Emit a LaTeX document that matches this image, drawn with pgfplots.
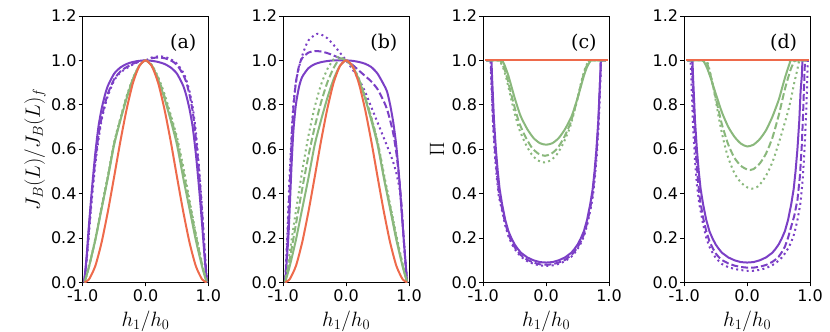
\documentclass[border=0pt]{standalone}
\usepackage{fontspec}
\setmainfont{DejaVu Sans}
\newfontfamily\panelfont{DejaVu Serif}
\usepackage{pgfplots}
\pgfplotsset{compat=1.18}

\definecolor{cpurple}{HTML}{7B3FC6}
\definecolor{cgreen}{HTML}{8AB87C}
\definecolor{corange}{HTML}{EE6A4B}

\tikzset{
  sol/.style={solid},
  das/.style={dash pattern=on 7pt off 3pt},
  dot/.style={dash pattern=on 2pt off 3.3pt},
  plab/.style={font=\panelfont\fontsize{19}{21}\selectfont},
}
\pgfplotsset{
  panel/.style={
    scale only axis, width=125.7pt, height=266.3pt,
    anchor=south west,
    xmin=-1, xmax=1, ymin=0, ymax=1.2,
    xtick={-1,0,1}, xticklabels={-1.0,0.0,1.0},
    ytick={0,0.2,0.4,0.6,0.8,1.0,1.2},
    yticklabels={0.0,0.2,0.4,0.6,0.8,1.0,1.2},
    tick align=outside, tick pos=left, major tick length=4pt,
    tick style={black, line width=0.8pt},
    axis line style={line width=0.8pt},
    ticklabel style={font=\fontsize{16}{18}\selectfont},
    xticklabel style={inner sep=1pt, yshift=-2pt},
    yticklabel style={inner sep=2pt},
    xlabel={$h_1/h_0$},
    label style={font=\fontsize{20}{22}\selectfont},
    xlabel style={at={(axis description cs:0.5,0)}, anchor=north, inner sep=0pt, yshift=-28pt},
    every axis plot/.append style={line width=2pt, smooth, tension=0.4},
  },
}

\begin{document}
\begin{tikzpicture}
\path[use as bounding box] (0pt,0pt) rectangle (830pt,332pt);

% (a)
\begin{axis}[panel, at={(82.7pt,49.7pt)}, ylabel={$J_B(L)/J_B(L)_f$},
  ylabel style={at={(axis description cs:-0.379,0.5)}, anchor=center}]
\addplot[cpurple,sol] coordinates {(-0.98,0) (-0.97,0.02) (-0.94,0.11) (-0.9,0.26) (-0.85,0.43) (-0.8,0.58) (-0.75,0.70) (-0.7,0.78) (-0.65,0.84) (-0.6,0.885) (-0.5,0.94) (-0.4,0.968) (-0.3,0.984) (-0.2,0.993) (-0.1,0.998) (0,1) (0.1,0.998) (0.2,0.993) (0.3,0.984) (0.4,0.968) (0.5,0.94) (0.6,0.885) (0.65,0.84) (0.7,0.78) (0.75,0.70) (0.8,0.58) (0.85,0.43) (0.9,0.26) (0.94,0.11) (0.97,0.02) (0.98,0)};
\addplot[cpurple,das] coordinates {(-0.98,0) (-0.96,0.04) (-0.93,0.13) (-0.9,0.24) (-0.85,0.41) (-0.8,0.55) (-0.75,0.66) (-0.7,0.74) (-0.65,0.80) (-0.6,0.85) (-0.5,0.915) (-0.4,0.95) (-0.3,0.97) (-0.2,0.985) (-0.1,0.995) (0,1.0) (0.1,1.01) (0.2,1.013) (0.3,1.01) (0.4,1.0) (0.5,0.98) (0.6,0.935) (0.65,0.90) (0.7,0.845) (0.75,0.77) (0.8,0.65) (0.85,0.50) (0.9,0.31) (0.94,0.14) (0.97,0.03) (0.98,0)};
\addplot[cpurple,dot] coordinates {(-0.98,0) (-0.96,0.03) (-0.93,0.12) (-0.9,0.22) (-0.85,0.39) (-0.8,0.53) (-0.75,0.64) (-0.7,0.73) (-0.65,0.79) (-0.6,0.84) (-0.5,0.91) (-0.4,0.945) (-0.3,0.965) (-0.2,0.982) (-0.1,0.995) (0,1.0) (0.1,1.013) (0.2,1.018) (0.3,1.016) (0.4,1.005) (0.5,0.985) (0.6,0.945) (0.65,0.91) (0.7,0.86) (0.75,0.79) (0.8,0.68) (0.85,0.52) (0.9,0.33) (0.94,0.15) (0.97,0.03) (0.98,0)};
\addplot[cgreen,sol] coordinates {(-0.97,0) (-0.95,0.02) (-0.9,0.07) (-0.8,0.19) (-0.7,0.33) (-0.6,0.47) (-0.5,0.62) (-0.4,0.73) (-0.3,0.83) (-0.2,0.915) (-0.1,0.975) (0,1) (0.1,0.975) (0.2,0.915) (0.3,0.83) (0.4,0.73) (0.5,0.62) (0.6,0.47) (0.7,0.33) (0.8,0.19) (0.9,0.07) (0.95,0.02) (0.97,0)};
\addplot[cgreen,das] coordinates {(-0.97,0) (-0.95,0.02) (-0.9,0.07) (-0.8,0.19) (-0.7,0.335) (-0.6,0.475) (-0.5,0.625) (-0.4,0.735) (-0.3,0.835) (-0.2,0.917) (-0.1,0.976) (0,1) (0.1,0.977) (0.2,0.92) (0.3,0.84) (0.4,0.745) (0.5,0.64) (0.6,0.5) (0.7,0.355) (0.8,0.21) (0.9,0.08) (0.95,0.025) (0.975,0)};
\addplot[cgreen,dot] coordinates {(-0.97,0) (-0.95,0.02) (-0.9,0.072) (-0.8,0.195) (-0.7,0.34) (-0.6,0.48) (-0.5,0.63) (-0.4,0.74) (-0.3,0.84) (-0.2,0.92) (-0.1,0.977) (0,1) (0.1,0.98) (0.2,0.925) (0.3,0.85) (0.4,0.755) (0.5,0.655) (0.6,0.52) (0.7,0.37) (0.8,0.22) (0.9,0.085) (0.95,0.03) (0.98,0)};
\addplot[corange,sol] coordinates {(-0.97,0) (-0.9,0.013) (-0.8,0.073) (-0.7,0.179) (-0.6,0.318) (-0.5,0.475) (-0.4,0.636) (-0.3,0.781) (-0.2,0.899) (-0.1,0.974) (0,1) (0.1,0.974) (0.2,0.899) (0.3,0.781) (0.4,0.636) (0.5,0.475) (0.6,0.318) (0.7,0.179) (0.8,0.073) (0.9,0.013) (0.97,0)};
\node[plab] at (rel axis cs:0.8,0.9) {(a)};
\end{axis}

% (b)
\begin{axis}[panel, at={(283.3pt,49.7pt)}]
\addplot[cpurple,sol] coordinates {(-0.97,0) (-0.95,0.08) (-0.92,0.2) (-0.9,0.32) (-0.87,0.52) (-0.84,0.68) (-0.8,0.80) (-0.75,0.88) (-0.7,0.925) (-0.6,0.965) (-0.5,0.983) (-0.4,0.992) (-0.3,0.997) (-0.2,1.0) (-0.1,1.0) (0,1.0) (0.1,0.998) (0.2,0.993) (0.3,0.985) (0.4,0.97) (0.5,0.94) (0.6,0.89) (0.65,0.86) (0.7,0.80) (0.75,0.72) (0.8,0.61) (0.85,0.45) (0.88,0.33) (0.92,0.18) (0.95,0.07) (0.97,0)};
\addplot[cpurple,das] coordinates {(-0.97,0) (-0.95,0.1) (-0.92,0.28) (-0.9,0.42) (-0.87,0.62) (-0.84,0.78) (-0.8,0.9) (-0.75,0.975) (-0.7,1.01) (-0.6,1.035) (-0.5,1.042) (-0.4,1.04) (-0.3,1.033) (-0.2,1.022) (-0.1,1.01) (0,0.998) (0.1,0.98) (0.2,0.955) (0.3,0.93) (0.4,0.905) (0.5,0.87) (0.6,0.815) (0.65,0.78) (0.7,0.73) (0.75,0.67) (0.8,0.58) (0.85,0.45) (0.88,0.35) (0.92,0.18) (0.95,0.07) (0.97,0)};
\addplot[cpurple,dot] coordinates {(-0.97,0) (-0.95,0.12) (-0.92,0.33) (-0.9,0.48) (-0.87,0.66) (-0.84,0.8) (-0.8,0.9) (-0.75,0.97) (-0.7,1.02) (-0.65,1.06) (-0.6,1.09) (-0.5,1.115) (-0.45,1.12) (-0.4,1.117) (-0.3,1.10) (-0.2,1.07) (-0.1,1.035) (0,1.0) (0.1,0.96) (0.2,0.915) (0.3,0.86) (0.4,0.79) (0.5,0.72) (0.6,0.65) (0.7,0.58) (0.75,0.54) (0.8,0.49) (0.85,0.42) (0.88,0.34) (0.91,0.22) (0.94,0.1) (0.97,0)};
\addplot[cgreen,sol] coordinates {(-0.97,0) (-0.95,0.02) (-0.9,0.07) (-0.8,0.19) (-0.7,0.33) (-0.6,0.47) (-0.5,0.62) (-0.4,0.73) (-0.3,0.83) (-0.2,0.915) (-0.1,0.975) (0,1) (0.1,0.975) (0.2,0.915) (0.3,0.83) (0.4,0.73) (0.5,0.62) (0.6,0.47) (0.7,0.33) (0.8,0.19) (0.9,0.07) (0.95,0.02) (0.97,0)};
\addplot[cgreen,das] coordinates {(-0.97,0) (-0.95,0.03) (-0.9,0.1) (-0.8,0.26) (-0.7,0.42) (-0.6,0.57) (-0.5,0.70) (-0.4,0.81) (-0.3,0.90) (-0.2,0.965) (-0.1,1.008) (0,1.0) (0.1,0.97) (0.2,0.915) (0.3,0.835) (0.4,0.74) (0.5,0.63) (0.6,0.48) (0.7,0.34) (0.8,0.20) (0.9,0.075) (0.95,0.02) (0.97,0)};
\addplot[cgreen,dot] coordinates {(-0.97,0) (-0.95,0.04) (-0.9,0.13) (-0.8,0.32) (-0.7,0.50) (-0.6,0.66) (-0.5,0.79) (-0.4,0.89) (-0.3,0.96) (-0.2,1.005) (-0.15,1.015) (-0.1,1.015) (0,1.0) (0.1,0.975) (0.2,0.92) (0.3,0.84) (0.4,0.745) (0.5,0.635) (0.6,0.49) (0.7,0.35) (0.8,0.21) (0.9,0.08) (0.95,0.025) (0.97,0)};
\addplot[corange,sol] coordinates {(-0.97,0) (-0.9,0.013) (-0.8,0.073) (-0.7,0.179) (-0.6,0.318) (-0.5,0.475) (-0.4,0.636) (-0.3,0.781) (-0.2,0.899) (-0.1,0.974) (0,1) (0.1,0.974) (0.2,0.899) (0.3,0.781) (0.4,0.636) (0.5,0.475) (0.6,0.318) (0.7,0.179) (0.8,0.073) (0.9,0.013) (0.97,0)};
\node[plab] at (rel axis cs:0.8,0.9) {(b)};
\end{axis}

% (c)
\begin{axis}[panel, at={(483.3pt,49.7pt)}, ylabel={$\Pi$},
  ylabel style={at={(axis description cs:-0.368,0.5)}, anchor=center}]
\addplot[cpurple,sol,sharp plot] coordinates {(-0.95,1) (-0.87,1.0) (-0.86,0.92) (-0.85,0.86) (-0.83,0.73) (-0.8,0.6) (-0.77,0.5) (-0.74,0.42) (-0.7,0.35) (-0.65,0.28) (-0.6,0.23) (-0.55,0.197) (-0.5,0.17) (-0.45,0.15) (-0.4,0.133) (-0.3,0.112) (-0.2,0.099) (-0.1,0.091) (0,0.089) (0.1,0.091) (0.2,0.099) (0.3,0.112) (0.4,0.133) (0.45,0.15) (0.5,0.17) (0.55,0.197) (0.6,0.23) (0.65,0.28) (0.7,0.35) (0.74,0.42) (0.77,0.5) (0.8,0.6) (0.83,0.73) (0.85,0.86) (0.86,0.92) (0.87,1.0) (0.95,1)};
\addplot[cpurple,das,sharp plot] coordinates {(-0.95,1) (-0.88,1.0) (-0.86,0.85) (-0.84,0.71) (-0.81,0.58) (-0.78,0.48) (-0.75,0.40) (-0.7,0.33) (-0.65,0.265) (-0.6,0.215) (-0.55,0.183) (-0.5,0.158) (-0.45,0.138) (-0.4,0.122) (-0.3,0.101) (-0.2,0.089) (-0.1,0.081) (0,0.079) (0.1,0.081) (0.2,0.089) (0.3,0.101) (0.4,0.122) (0.45,0.138) (0.5,0.158) (0.55,0.183) (0.6,0.215) (0.65,0.265) (0.7,0.33) (0.74,0.40) (0.77,0.48) (0.8,0.58) (0.83,0.71) (0.85,0.85) (0.87,1.0) (0.95,1)};
\addplot[cpurple,dot,sharp plot] coordinates {(-0.95,1) (-0.885,1.0) (-0.865,0.85) (-0.845,0.71) (-0.815,0.57) (-0.785,0.47) (-0.755,0.39) (-0.7,0.32) (-0.65,0.255) (-0.6,0.207) (-0.55,0.175) (-0.5,0.15) (-0.45,0.131) (-0.4,0.115) (-0.3,0.095) (-0.2,0.083) (-0.1,0.076) (0,0.074) (0.1,0.076) (0.2,0.083) (0.3,0.095) (0.4,0.115) (0.45,0.131) (0.5,0.15) (0.55,0.175) (0.6,0.207) (0.65,0.255) (0.7,0.32) (0.745,0.39) (0.775,0.47) (0.805,0.57) (0.835,0.71) (0.855,0.85) (0.875,1.0) (0.95,1)};
\addplot[cgreen,sol] coordinates {(-0.95,1) (-0.72,1.0) (-0.68,0.99) (-0.65,0.97) (-0.6,0.93) (-0.55,0.88) (-0.5,0.83) (-0.45,0.785) (-0.4,0.745) (-0.3,0.69) (-0.2,0.65) (-0.1,0.627) (0,0.62) (0.1,0.627) (0.2,0.65) (0.3,0.69) (0.4,0.745) (0.45,0.785) (0.5,0.83) (0.55,0.88) (0.6,0.93) (0.65,0.97) (0.7,0.995) (0.72,1.0) (0.95,1)};
\addplot[cgreen,das] coordinates {(-0.95,1) (-0.74,1.0) (-0.72,0.994) (-0.67,0.966) (-0.62,0.921) (-0.57,0.864) (-0.52,0.808) (-0.47,0.757) (-0.42,0.712) (-0.32,0.65) (-0.22,0.604) (-0.12,0.579) (-0.02,0.57) (0.08,0.579) (0.18,0.604) (0.28,0.65) (0.38,0.712) (0.43,0.757) (0.48,0.808) (0.53,0.864) (0.58,0.921) (0.63,0.966) (0.68,0.994) (0.70,1.0) (0.95,1)};
\addplot[cgreen,dot] coordinates {(-0.95,1) (-0.75,1.0) (-0.73,0.994) (-0.68,0.964) (-0.63,0.915) (-0.58,0.855) (-0.53,0.794) (-0.48,0.74) (-0.43,0.691) (-0.33,0.625) (-0.23,0.576) (-0.13,0.549) (-0.03,0.54) (0.07,0.549) (0.17,0.576) (0.27,0.625) (0.37,0.691) (0.42,0.74) (0.47,0.794) (0.52,0.855) (0.57,0.915) (0.62,0.964) (0.67,0.994) (0.69,1.0) (0.95,1)};
\addplot[corange,sol] coordinates {(-0.97,1) (0,1) (0.97,1)};
\node[plab] at (rel axis cs:0.8,0.9) {(c)};
\end{axis}

% (d)
\begin{axis}[panel, at={(684.3pt,49.7pt)}]
\addplot[cpurple,sol,sharp plot] coordinates {(-0.95,1) (-0.87,1.0) (-0.86,0.92) (-0.85,0.86) (-0.83,0.73) (-0.8,0.6) (-0.77,0.5) (-0.74,0.42) (-0.7,0.35) (-0.65,0.28) (-0.6,0.23) (-0.55,0.197) (-0.5,0.17) (-0.45,0.15) (-0.4,0.133) (-0.3,0.112) (-0.2,0.099) (-0.1,0.091) (0,0.089) (0.1,0.091) (0.2,0.099) (0.3,0.112) (0.4,0.133) (0.45,0.15) (0.5,0.17) (0.55,0.197) (0.6,0.23) (0.65,0.28) (0.7,0.35) (0.74,0.42) (0.77,0.5) (0.8,0.6) (0.83,0.73) (0.85,0.86) (0.87,0.93) (0.88,1.0) (0.95,1)};
\addplot[cpurple,das,sharp plot] coordinates {(-0.95,1) (-0.88,1.0) (-0.86,0.85) (-0.84,0.7) (-0.81,0.56) (-0.78,0.45) (-0.75,0.37) (-0.7,0.29) (-0.65,0.23) (-0.6,0.185) (-0.55,0.155) (-0.5,0.13) (-0.45,0.113) (-0.4,0.1) (-0.3,0.085) (-0.2,0.075) (-0.1,0.069) (0,0.066) (0.1,0.066) (0.2,0.07) (0.3,0.078) (0.4,0.092) (0.45,0.102) (0.5,0.115) (0.55,0.135) (0.6,0.16) (0.65,0.2) (0.7,0.25) (0.75,0.3) (0.8,0.37) (0.84,0.48) (0.87,0.62) (0.89,0.76) (0.91,0.92) (0.92,1.0) (0.96,1)};
\addplot[cpurple,dot,sharp plot] coordinates {(-0.95,1) (-0.9,1.0) (-0.88,0.85) (-0.86,0.7) (-0.83,0.55) (-0.8,0.44) (-0.76,0.35) (-0.7,0.26) (-0.65,0.2) (-0.6,0.16) (-0.55,0.133) (-0.5,0.11) (-0.45,0.095) (-0.4,0.082) (-0.3,0.068) (-0.2,0.06) (-0.1,0.055) (0,0.052) (0.1,0.052) (0.2,0.056) (0.3,0.064) (0.4,0.077) (0.5,0.097) (0.55,0.111) (0.6,0.13) (0.65,0.152) (0.7,0.18) (0.75,0.22) (0.8,0.28) (0.85,0.36) (0.88,0.45) (0.91,0.58) (0.93,0.7) (0.95,0.85) (0.96,0.95) (0.965,1.0) (0.97,1)};
\addplot[cgreen,sol] coordinates {(-0.95,1) (-0.72,1.0) (-0.68,0.99) (-0.63,0.96) (-0.58,0.92) (-0.5,0.85) (-0.4,0.765) (-0.3,0.7) (-0.2,0.655) (-0.1,0.625) (0,0.612) (0.1,0.62) (0.2,0.645) (0.3,0.685) (0.4,0.745) (0.5,0.82) (0.55,0.87) (0.6,0.92) (0.65,0.965) (0.68,0.99) (0.7,1.0) (0.95,1)};
\addplot[cgreen,das] coordinates {(-0.95,1) (-0.68,1.0) (-0.63,0.98) (-0.58,0.93) (-0.5,0.83) (-0.45,0.77) (-0.4,0.71) (-0.3,0.62) (-0.2,0.56) (-0.1,0.525) (0,0.508) (0.05,0.506) (0.1,0.51) (0.2,0.535) (0.3,0.58) (0.4,0.65) (0.5,0.75) (0.55,0.81) (0.6,0.87) (0.65,0.92) (0.7,0.965) (0.75,0.995) (0.77,1.0) (0.95,1)};
\addplot[cgreen,dot] coordinates {(-0.95,1) (-0.66,1.0) (-0.62,0.98) (-0.56,0.91) (-0.5,0.82) (-0.45,0.74) (-0.4,0.67) (-0.35,0.61) (-0.3,0.56) (-0.2,0.49) (-0.1,0.45) (0,0.428) (0.08,0.422) (0.15,0.428) (0.2,0.44) (0.3,0.48) (0.4,0.54) (0.5,0.625) (0.6,0.72) (0.65,0.77) (0.7,0.83) (0.75,0.9) (0.8,0.96) (0.82,0.99) (0.84,1.0) (0.95,1)};
\addplot[corange,sol] coordinates {(-0.97,1) (0,1) (0.97,1)};
\node[plab] at (rel axis cs:0.79,0.9) {(d)};
\end{axis}
\end{tikzpicture}
\end{document}
